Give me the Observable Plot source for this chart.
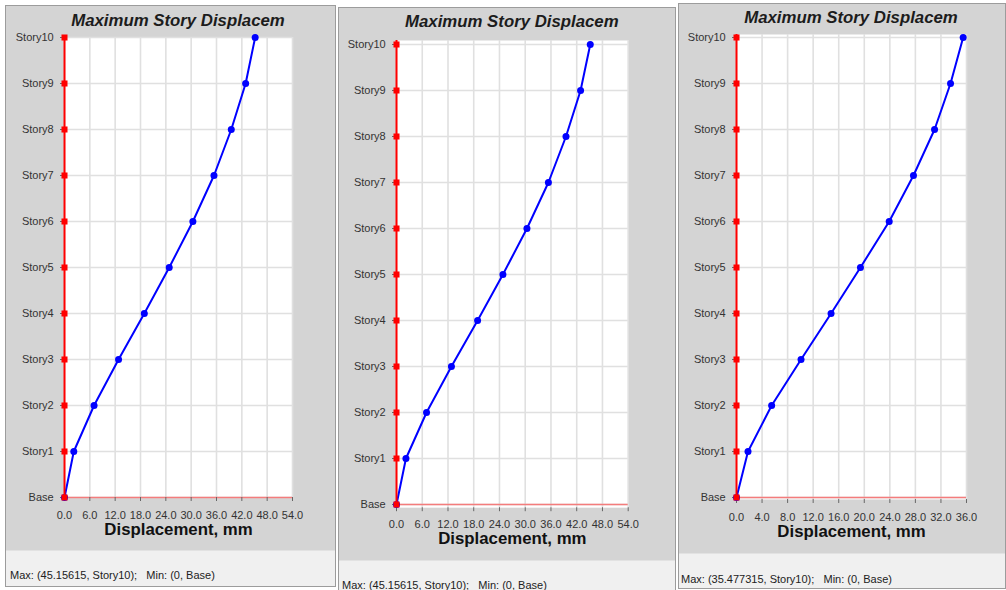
<!DOCTYPE html>
<html><head><meta charset="utf-8">
<script src="https://cdn.jsdelivr.net/npm/d3@7"></script>
<script src="https://cdn.jsdelivr.net/npm/@observablehq/plot@0.6"></script>
<style>
html,body{margin:0;padding:0;background:#fff;}
#root{position:relative;width:1006px;height:590px;overflow:hidden;background:#fff;font-family:"Liberation Sans",Arial,sans-serif;}
.panel{position:absolute;box-sizing:border-box;border:1px solid #9c9c9c;background:#d4d4d4;overflow:hidden;}
.footer{position:absolute;left:0;right:0;bottom:0;background:#f0f0f0;border-top:1px solid #e2e2e2;}
.ftxt{position:absolute;white-space:pre;font-size:11px;line-height:14px;color:#222;}
.title{position:absolute;white-space:nowrap;font-size:16.8px;line-height:20px;font-weight:bold;font-style:italic;color:#1c1c1c;transform:translateX(-50%);}
.plotwrap{position:absolute;}
</style></head><body><div id="root"></div>
<script>
// ---- data ----
const stories = ["Base","Story1","Story2","Story3","Story4","Story5","Story6","Story7","Story8","Story9","Story10"];
const dispA = [0, 2.2, 7.0, 12.8, 18.9, 24.8, 30.4, 35.4, 39.5, 42.9, 45.15615];
const dispB = [0, 2.2, 7.0, 12.8, 18.9, 24.8, 30.4, 35.4, 39.5, 42.9, 45.15615];
const dispC = [0, 1.8, 5.5, 10.1, 14.8, 19.4, 23.9, 27.7, 31.0, 33.5, 35.477315];
const ticksA = [0, 6, 12, 18, 24, 30, 36, 42, 48, 54];
const ticksC = [0, 4, 8, 12, 16, 20, 24, 28, 32, 36];
const titleText = "Maximum Story Displacem";
const xLabel = "Displacement, mm";
const footA = "Max: (45.15615, Story10);   Min: (0, Base)";
const footC = "Max: (35.477315, Story10);   Min: (0, Base)";

// ---- layout (page pixels) ----
const panels = [
  {values: dispA, ticks: ticksA, foot: footA, box:[5,5,336,587], grayB:550, frame:[64,292,37,497], titleTop:15, tickTop:510.7, labelCY:535.8, footCY:575, footX:10},
  {values: dispB, ticks: ticksA, foot: footA, box:[338,7,676,600], grayB:560, frame:[396,627.7,39.5,506.7], titleTop:16, tickTop:519.4, labelCY:544, footCY:584.5, footX:342},
  {values: dispC, ticks: ticksC, foot: footC, box:[678,3,1006,589], grayB:553, frame:[736,966,34.3,499.3], titleTop:11.7, tickTop:512.8, labelCY:538.3, footCY:579, footX:681}
];

const root = document.getElementById("root");
const fmt = d3.format(".1f");

for (const p of panels) {
  const [L,T,R,B] = p.box;
  const ox = L + 1, oy = T + 1;
  const div = document.createElement("div");
  div.className = "panel";
  Object.assign(div.style, {left: L+"px", top: T+"px", width: (R-L)+"px", height: (B-T)+"px"});
  root.appendChild(div);

  const [fx0, fx1, fy0, fy1] = p.frame;
  const svgTop = fy0 - 14;
  const W = R - L - 2, H = p.grayB - svgTop;
  const xmax = p.ticks[p.ticks.length - 1];
  const rows = stories.map((s, i) => ({story: s, disp: p.values[i]}));

  const chart = Plot.plot({
    width: W, height: H,
    marginLeft: fx0 - ox, marginRight: (ox + W) - fx1,
    marginTop: fy0 - svgTop, marginBottom: (svgTop + H) - fy1,
    style: {background: "transparent", fontFamily: '"Liberation Sans", Arial, sans-serif', fontSize: "11px", color: "#333", overflow: "visible"},
    x: {domain: [0, xmax]},
    y: {type: "point", domain: stories.slice().reverse(), padding: 0},
    marks: [
      Plot.frame({fill: "white", stroke: null}),
      Plot.gridX(p.ticks, {stroke: "#e0e0e0", strokeOpacity: 1, strokeWidth: 1.6}),
      Plot.gridY(stories, {stroke: "#e0e0e0", strokeOpacity: 1, strokeWidth: 1.6}),
      Plot.ruleY(["Base"], {stroke: "#f47c7c", strokeWidth: 1.6}),
      Plot.axisX(p.ticks, {tickFormat: fmt, tickSize: 4, tickPadding: p.tickTop - fy1 - 4, label: null, stroke: "#666", fill: "#333", fontSize: 11}),
      Plot.axisY({tickSize: 4, tickPadding: 6.8, label: null, stroke: "#666", fill: "#333", fontSize: 11}),
      Plot.line(rows, {x: "disp", y: "story", stroke: "#0000ff", strokeWidth: 2}),
      Plot.dot(rows, {x: "disp", y: "story", fill: "#0000ff", r: 3.5}),
      Plot.ruleX([0], {stroke: "#ff0000", strokeWidth: 2}),
      Plot.dot(stories, {x: () => 0, y: d => d, symbol: "square", fill: "#ff0000", r: 3.4}),
      Plot.text([xLabel], {text: d => d, frameAnchor: "bottom", dy: p.labelCY - fy1 - 1.15, fontSize: 16.8, fontWeight: "bold", fill: "#111"})
    ]
  });

  const wrap = document.createElement("div");
  wrap.className = "plotwrap";
  wrap.style.left = "0px";
  wrap.style.top = (svgTop - oy) + "px";
  wrap.appendChild(chart);
  div.appendChild(wrap);

  const title = document.createElement("div");
  title.className = "title";
  title.textContent = titleText;
  title.style.left = ((fx0 + fx1) / 2 - ox) + "px";
  title.style.top = (p.titleTop - 3.8 - oy) + "px";
  div.appendChild(title);

  const footer = document.createElement("div");
  footer.className = "footer";
  footer.style.top = (p.grayB - oy) + "px";
  div.appendChild(footer);
  const ft = document.createElement("div");
  ft.className = "ftxt";
  ft.textContent = p.foot;
  ft.style.left = (p.footX - ox) + "px";
  ft.style.top = (p.footCY - 7 - p.grayB - 1) + "px";
  footer.appendChild(ft);
}
</script></body></html>
